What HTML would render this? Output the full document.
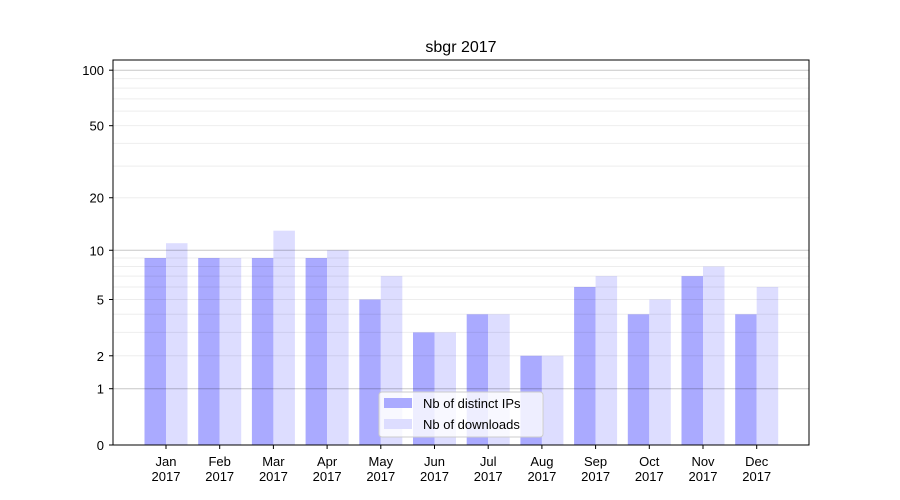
<!DOCTYPE html>
<html><head><meta charset="utf-8"><style>body{margin:0;background:#fff}svg{display:block;font-family:"Liberation Sans","DejaVu Sans",sans-serif}</style></head>
<body>
<svg width="900" height="500" xmlns="http://www.w3.org/2000/svg">
<rect width="900" height="500" fill="#fff"/>
<g id="bars"></g>
<g id="grid"></g>
<rect x="113" y="60" width="696" height="385" fill="none" stroke="#000" stroke-width="1"/>
<g id="ticks" font-size="13" fill="#000"></g>
<text x="461" y="52" font-size="16" text-anchor="middle">sbgr 2017</text>
<g>
<rect x="379" y="392" width="164" height="45" rx="3" fill="#fff" fill-opacity="0.8" stroke="#ccc"/>
<rect x="384" y="398" width="28" height="10" fill="#aaaaff"/>
<rect x="384" y="419" width="28" height="10" fill="#ddddff"/>
<text x="423" y="408" font-size="13">Nb of distinct IPs</text>
<text x="423" y="429" font-size="13">Nb of downloads</text>
</g>
<script>
const Y=v=>445-187*Math.log10(v+1);
const ns="http://www.w3.org/2000/svg";
function el(p,t,a,txt){const e=document.createElementNS(ns,t);for(const k in a)e.setAttribute(k,a[k]);if(txt!=null)e.textContent=txt;document.getElementById(p).appendChild(e);}
[2,3,4,5,6,7,8,9,20,30,40,50,60,70,80,90].forEach(v=>el("grid","line",{x1:113,x2:809,y1:Y(v),y2:Y(v),stroke:"#000","stroke-opacity":0.07,"stroke-width":1}));
[1,10,100].forEach(v=>el("grid","line",{x1:113,x2:809,y1:Y(v),y2:Y(v),stroke:"#000","stroke-opacity":0.22,"stroke-width":1}));
const a=[9,9,9,9,5,3,4,2,6,4,7,4],b=[11,9,13,10,7,3,4,2,7,5,8,6];
const m=["Jan","Feb","Mar","Apr","May","Jun","Jul","Aug","Sep","Oct","Nov","Dec"];
for(let i=0;i<12;i++){const c=166+i*53.7;
el("bars","rect",{x:c-21.5,y:Y(a[i]),width:21.5,height:445-Y(a[i]),fill:"#aaaaff"});
el("bars","rect",{x:c,y:Y(b[i]),width:21.5,height:445-Y(b[i]),fill:"#ddddff"});
el("ticks","line",{x1:c,x2:c,y1:445,y2:449,stroke:"#000"});
el("ticks","text",{x:c,y:466,"text-anchor":"middle"},m[i]);
el("ticks","text",{x:c,y:481,"text-anchor":"middle"},"2017");}
[0,1,2,5,10,20,50,100].forEach(v=>{el("ticks","line",{x1:109,x2:113,y1:Y(v),y2:Y(v),stroke:"#000"});
el("ticks","text",{x:104,y:Y(v)+5,"text-anchor":"end"},v);});
</script>
</svg>
</body></html>
